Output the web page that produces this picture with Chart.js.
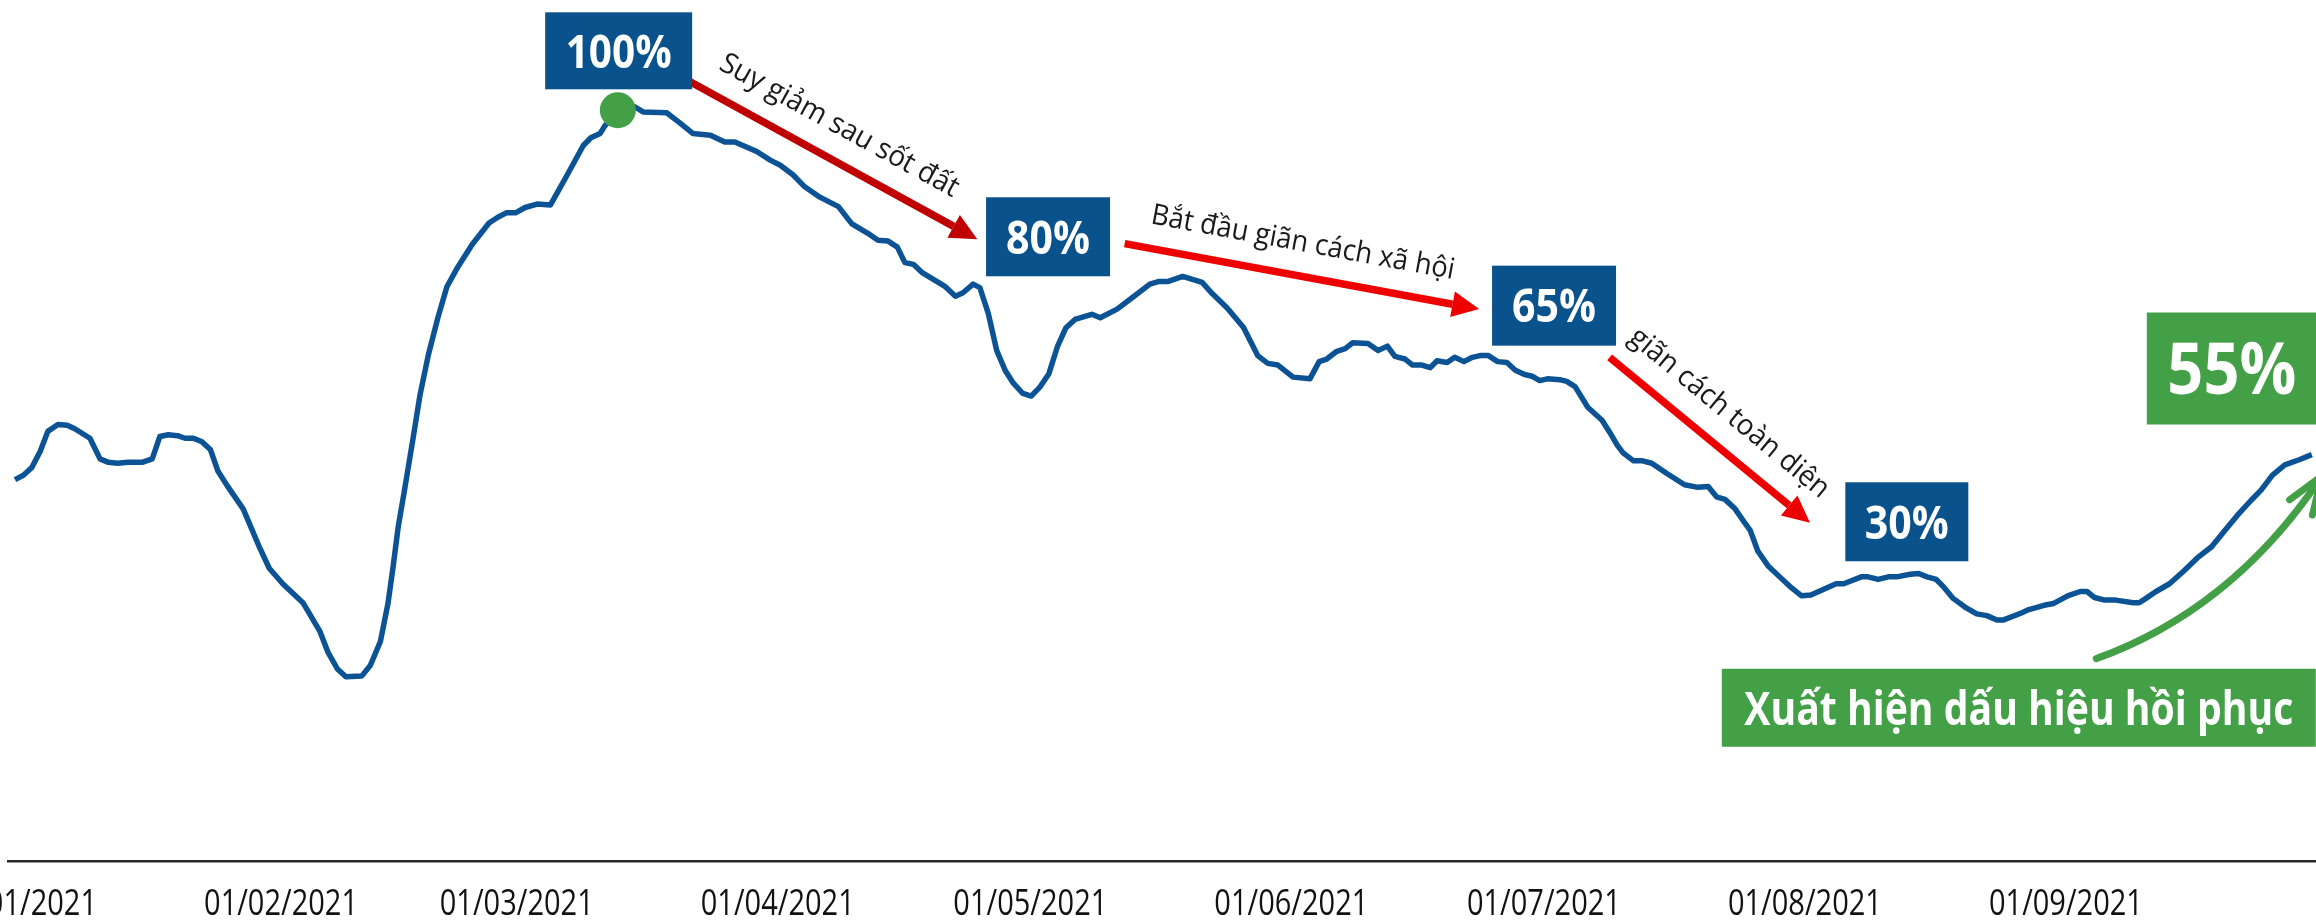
<!DOCTYPE html>
<html lang="vi">
<head>
<meta charset="utf-8">
<title>Diễn biến chỉ số 2021</title>
<script src="https://cdn.jsdelivr.net/npm/chart.js"></script>
<style>
    html, body { margin: 0; padding: 0; background: #ffffff; }
    canvas { display: block; }
</style>
</head>
<body>
<canvas id="trendChart" width="2316" height="920"></canvas>
<script>
// X AXIS TICKS (day 0 = 01/01/2021)
const tickDays = [0, 31, 59, 90, 120, 151, 181, 212, 243];
const tickLabels = ['01/01/2021', '01/02/2021', '01/03/2021', '01/04/2021', '01/05/2021',
    '01/06/2021', '01/07/2021', '01/08/2021', '01/09/2021'];

// SERIES: days since 01/01/2021 and index level
const days = [
    -0.6, 0.4, 1.4, 2.4, 3.3, 4.5, 5.6, 6.5, 8.3, 9.5,
    10.5, 11.6, 12.8, 14.5, 15.7, 16.6, 17.6, 18.7, 19.6, 20.6,
    21.6, 22.6, 23.5, 24.6, 26.5, 28.5, 29.6, 31.2, 33.6, 35.6,
    36.6, 37.7, 38.7, 40.6, 41.6, 42.8, 43.7, 44.3, 44.9, 45.6,
    46.7, 47.5, 48.5, 49.6, 50.7, 52.0, 53.7, 55.7, 56.8, 57.8,
    58.9, 60.0, 61.4, 63.0, 63.8, 65.0, 66.9, 67.8, 68.9, 69.4,
    71.0, 73.0, 74.0, 76.8, 78.4, 79.9, 82.0, 83.7, 84.9, 87.5,
    89.1, 90.3, 91.8, 93.2, 95.0, 97.2, 98.8, 100.7, 101.9, 103.1,
    104.2, 105.1, 106.1, 107.2, 109.9, 111.1, 112.0, 113.2, 114.0, 115.0,
    116.0, 117.0, 117.9, 119.1, 120.1, 121.1, 122.2, 123.2, 124.2, 125.3,
    127.3, 128.3, 130.3, 132.2, 134.2, 135.2, 136.3, 138.1, 140.4, 141.6,
    143.4, 145.3, 147.0, 148.2, 149.4, 151.2, 153.2, 154.3, 155.2, 156.4,
    157.4, 158.3, 160.1, 161.3, 162.4, 163.3, 164.5, 165.4, 166.5, 167.5,
    168.3, 169.5, 170.4, 171.5, 172.5, 173.4, 174.4, 175.5, 176.6, 177.6,
    178.7, 179.6, 180.5, 181.4, 182.9, 183.7, 184.7, 186.2, 187.9, 188.8,
    189.7, 190.4, 191.6, 192.6, 193.8, 195.6, 197.7, 199.3, 200.5, 201.5,
    202.5, 203.7, 204.9, 205.5, 206.4, 207.6, 209.0, 210.2, 211.6, 212.7,
    214.3, 215.7, 216.6, 218.7, 219.5, 220.7, 221.9, 222.9, 224.5, 225.5,
    226.5, 227.6, 228.4, 229.6, 231.0, 232.4, 233.6, 234.8, 235.6, 237.7,
    238.6, 240.4, 241.5, 243.2, 244.7, 245.5, 246.4, 247.6, 248.9, 251.0,
    251.7, 252.5, 253.7, 255.3, 256.9, 258.6, 260.3, 261.8, 263.4, 265.0,
    266.2, 267.5, 269.0, 270.7, 272.2
];
const values = [
    44.3, 44.8, 45.7, 47.6, 49.9, 50.7, 50.6, 50.2, 49.1, 46.7,
    46.3, 46.2, 46.3, 46.3, 46.7, 49.3, 49.5, 49.4, 49.1, 49.1,
    48.7, 47.8, 45.3, 43.6, 40.9, 36.3, 34.0, 32.2, 30.0, 26.7,
    24.2, 22.3, 21.4, 21.5, 22.7, 25.5, 29.9, 34.1, 38.7, 42.7,
    49.2, 54.1, 58.8, 63.0, 66.7, 69.0, 71.6, 74.1, 74.8, 75.3,
    75.3, 75.9, 76.3, 76.2, 77.6, 79.7, 83.1, 84.0, 84.5, 85.3,
    87.2, 87.6, 87.0, 86.9, 85.7, 84.5, 84.3, 83.5, 83.5, 82.4,
    81.4, 80.8, 79.7, 78.3, 77.1, 76.0, 74.0, 72.9, 72.1, 72.0,
    71.3, 69.5, 69.3, 68.3, 66.7, 65.6, 66.0, 67.0, 66.6, 63.6,
    59.3, 57.0, 55.6, 54.3, 54.0, 55.0, 56.6, 59.7, 61.9, 62.9,
    63.5, 63.1, 64.1, 65.5, 67.0, 67.3, 67.3, 67.9, 67.2, 65.9,
    64.2, 62.0, 58.7, 57.8, 57.6, 56.2, 56.0, 58.0, 58.3, 59.2,
    59.5, 60.2, 60.1, 59.3, 59.8, 58.6, 58.3, 57.6, 57.6, 57.3,
    58.1, 57.9, 58.5, 58.0, 58.5, 58.7, 58.7, 58.0, 57.9, 57.0,
    56.5, 56.3, 55.8, 56.0, 55.9, 55.7, 55.1, 52.7, 51.2, 49.8,
    48.3, 47.4, 46.5, 46.5, 46.2, 45.0, 43.7, 43.4, 43.5, 42.3,
    42.0, 40.9, 39.2, 38.4, 36.0, 34.3, 33.0, 31.9, 30.8, 30.9,
    31.6, 32.2, 32.2, 33.0, 33.0, 32.7, 33.0, 33.0, 33.3, 33.4,
    33.0, 32.7, 31.9, 30.5, 29.5, 28.7, 28.5, 28.0, 28.0, 28.8,
    29.2, 29.7, 29.9, 30.8, 31.3, 31.3, 30.6, 30.3, 30.3, 30.0,
    30.0, 30.5, 31.3, 32.2, 33.6, 35.2, 36.5, 38.3, 40.2, 41.9,
    43.1, 44.8, 46.0, 46.6, 47.2
];

// highlighted peak (green dot)
const peakIndex = 60;

// Colours
const BOX_BLUE = '#0a528c';
const LINE_BLUE = '#0b5394';
const GREEN = '#43a047';
const DARK_RED = '#c00000';
const RED = '#ee0000';
const TEXT = '#1a1a1a';

// Callout boxes: centre in data units (day, value), size in px
const boxes = [
    { text: '100%', day: 71.1, value: 94.1, w: 147, h: 77, fill: BOX_BLUE, size: 47, textW: 106 },
    { text: '80%', day: 122.1, value: 72.5, w: 124, h: 79, fill: BOX_BLUE, size: 47, textW: 84 },
    { text: '65%', day: 182.2, value: 64.5, w: 124, h: 80, fill: BOX_BLUE, size: 47, textW: 84 },
    { text: '30%', day: 224.1, value: 39.4, w: 123, h: 79, fill: BOX_BLUE, size: 47, textW: 84 },
    { text: '55%', day: 262.7, value: 57.2, w: 170, h: 112, fill: GREEN, size: 72, textW: 129 },
    { text: 'Xuất hiện dấu hiệu hồi phục', day: 237.4, value: 17.8, w: 594, h: 78, fill: GREEN, size: 47, textW: 549 }
];

// Straight arrows with their captions (offsets in px along / above the arrow)
const arrows = [
    { from: [79.6, 90.5], to: [113.7, 72.2], color: DARK_RED, label: 'Suy giảm sau sốt đất', along: -12, normal: 33, textW: 268 },
    { from: [131.2, 71.7], to: [173.3, 64.1], color: RED, label: 'Bắt đầu giãn cách xã hội', along: -5, normal: 33, textW: 308 },
    { from: [188.8, 58.5], to: [212.6, 39.3], color: RED, label: 'giãn cách toàn diện', along: -2, normal: 33, textW: 250 }
];

// Curved recovery arrow (quadratic)
const recoveryCurve = { from: [246.6, 23.5], via: [262.8, 29.2], to: [273.4, 44.7] };

const FONT = '"Open Sans", "Noto Sans", "DejaVu Sans", sans-serif';

// draw text squeezed / stretched to a target width
function drawText(ctx, text, cx, cy, angle, weight, size, targetW, color, capCentre) {
    ctx.save();
    ctx.font = `${weight} ${size}px ${FONT}`;
    const w = ctx.measureText(text).width;
    const sx = Math.min(1.15, Math.max(0.7, targetW / w));
    ctx.translate(cx, cy);
    ctx.rotate(angle);
    ctx.scale(sx, 1);
    ctx.fillStyle = color;
    ctx.textAlign = 'center';
    if (capCentre) {
        ctx.textBaseline = 'alphabetic';
        ctx.fillText(text, 0, size * 0.357);
    } else {
        ctx.textBaseline = 'middle';
        ctx.fillText(text, 0, 0);
    }
    ctx.restore();
}

function drawArrow(ctx, x0, y0, x1, y1, color) {
    const ang = Math.atan2(y1 - y0, x1 - x0);
    const headLen = 27, headHalf = 13;
    const bx = x1 - Math.cos(ang) * headLen;
    const by = y1 - Math.sin(ang) * headLen;
    ctx.strokeStyle = color;
    ctx.lineWidth = 7.5;
    ctx.lineCap = 'butt';
    ctx.beginPath();
    ctx.moveTo(x0, y0);
    ctx.lineTo(bx, by);
    ctx.stroke();
    ctx.fillStyle = color;
    ctx.beginPath();
    ctx.moveTo(x1, y1);
    ctx.lineTo(bx + Math.sin(ang) * headHalf, by - Math.cos(ang) * headHalf);
    ctx.lineTo(bx - Math.sin(ang) * headHalf, by + Math.cos(ang) * headHalf);
    ctx.closePath();
    ctx.fill();
}

// ANNOTATION PLUGIN
const annotationPlugin = {
    id: 'annotations',
    afterDatasetsDraw(chart) {
        const { ctx, scales } = chart;
        const toPx = (d, v) => [scales.x.getPixelForValue(d), scales.y.getPixelForValue(v)];
        ctx.save();

        // red arrows + captions
        arrows.forEach(a => {
            const [x0, y0] = toPx(...a.from);
            const [x1, y1] = toPx(...a.to);
            drawArrow(ctx, x0, y0, x1, y1, a.color);
            const ang = Math.atan2(y1 - y0, x1 - x0);
            const mx = (x0 + x1) / 2, my = (y0 + y1) / 2;
            const cx = mx + Math.cos(ang) * a.along + Math.sin(ang) * a.normal;
            const cy = my + Math.sin(ang) * a.along - Math.cos(ang) * a.normal;
            drawText(ctx, a.label, cx, cy, ang, 'normal', 29, a.textW, TEXT, false);
        });

        // green curved arrow
        const [sx, sy] = toPx(...recoveryCurve.from);
        const [qx, qy] = toPx(...recoveryCurve.via);
        const [ex, ey] = toPx(...recoveryCurve.to);
        ctx.strokeStyle = GREEN;
        ctx.lineWidth = 7;
        ctx.lineCap = 'round';
        ctx.beginPath();
        ctx.moveTo(sx, sy);
        ctx.quadraticCurveTo(qx, qy, ex, ey);
        ctx.stroke();
        const ang = Math.atan2(ey - qy, ex - qx);
        [-1, 1].forEach(s => {
            const a = ang + Math.PI + s * 0.35;
            ctx.beginPath();
            ctx.moveTo(ex, ey);
            ctx.lineTo(ex + Math.cos(a) * 40, ey + Math.sin(a) * 40);
            ctx.stroke();
        });

        // callout boxes
        boxes.forEach(b => {
            const [cx, cy] = toPx(b.day, b.value);
            ctx.fillStyle = b.fill;
            ctx.fillRect(cx - b.w / 2, cy - b.h / 2, b.w, b.h);
            drawText(ctx, b.text, cx, cy, 0, 'bold', b.size, b.textW, '#ffffff', true);
        });

        ctx.restore();
    },
    // date labels, placed at the x scale's own tick positions (narrow like the original)
    afterDraw(chart) {
        const { ctx, scales: { x } } = chart;
        const labelY = x.top + 41;
        x.ticks.forEach(t => {
            const label = tickLabels[tickDays.indexOf(t.value)];
            drawText(ctx, label, x.getPixelForValue(t.value), labelY, 0, 'normal', 36, 154, '#111111', true);
        });
    }
};

document.addEventListener('DOMContentLoaded', () => {
    const canvas = document.getElementById('trendChart');
    const points = days.map((d, i) => ({ x: d, y: values[i] }));

    new Chart(canvas.getContext('2d'), {
        type: 'line',
        data: {
            datasets: [
                {
                    data: [points[peakIndex]],
                    showLine: false,
                    pointRadius: 18,
                    pointBackgroundColor: GREEN,
                    pointBorderWidth: 0,
                    order: 0
                },
                {
                    data: points,
                    borderColor: LINE_BLUE,
                    borderWidth: 5.5,
                    borderJoinStyle: 'round',
                    pointRadius: 0,
                    tension: 0,
                    fill: false,
                    order: 1
                }
            ]
        },
        options: {
            responsive: false,
            animation: false,
            layout: { autoPadding: false, padding: { left: 8, right: 0, top: 0, bottom: 0 } },
            plugins: { legend: { display: false }, tooltip: { enabled: false } },
            scales: {
                x: {
                    type: 'linear',
                    min: -1.43,
                    max: 272.7,
                    afterBuildTicks: (scale) => {
                        scale.ticks = tickDays.map(v => ({ value: v }));
                    },
                    // let the first label run off the left edge like the original
                    afterFit: (scale) => {
                        scale.paddingLeft = 0;
                        scale.paddingRight = 0;
                    },
                    grid: { display: false, drawTicks: false },
                    border: { display: true, color: '#262626', width: 2.5 },
                    ticks: {
                        autoSkip: false,
                        maxRotation: 0,
                        padding: 11,
                        color: 'rgba(0,0,0,0)',
                        font: { family: FONT, size: 37, lineHeight: 1 },
                        callback: (v) => tickLabels[tickDays.indexOf(v)]
                    }
                },
                y: { display: false, min: 0, max: 100 }
            }
        },
        plugins: [annotationPlugin]
    });
});
</script>
</body>
</html>
